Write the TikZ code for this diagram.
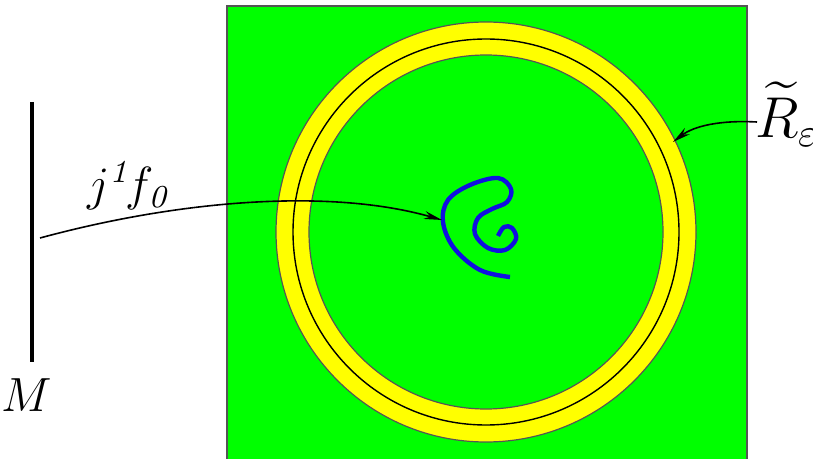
\documentclass[tikz,border=0pt]{standalone}
\usepackage{amsmath,amssymb}
\usepackage{tikz}
\usetikzlibrary{arrows.meta, positioning}
\definecolor{fieldgreen}{HTML}{00FF00}
\definecolor{ringyellow}{HTML}{FFFF00}
\definecolor{curveblue}{HTML}{1010E0}
\definecolor{edgegray}{HTML}{555555}

\begin{document}
\begin{tikzpicture}[
  x=0.25pt, y=-0.25pt,
  lbl/.style={inner sep=0pt, font=\normalsize},
  ptr/.style={-{Stealth[length=4.5pt, width=2pt]}, line width=0.4pt},
  edge/.style={draw=edgegray, line width=0.3pt},
]
  \useasboundingbox (0,0) rectangle (813,459);

  %% Square with the ring
  \fill[fieldgreen] (227,6) rectangle (747,459);
  \draw[edge, line width=0.5pt] (227,459) -- (227,6) -- (747,6) -- (747,459);
  \coordinate (ctr) at (486,232);
  \fill[ringyellow, even odd rule] (ctr) circle (210) (ctr) circle (177);
  \draw[edge] (ctr) circle (210);
  \draw[edge] (ctr) circle (177);
  \draw[black, line width=0.35pt] (ctr) circle (193);

  %% Spiral
  \draw[curveblue, line width=1.1pt, line join=round]
    plot[smooth, tension=0.6] coordinates {
      (510,277) (480,270) (454,248) (443,222) (448,200) (470,185)
      (498,178) (511,189) (507,202) (492,209) (478,218) (475,234)
      (488,248) (505,250) (516,239) (512,228) (504,227) (498,236)};
  \coordinate (spiral) at (442,220);

  %% Manifold M
  \coordinate (Mtop) at (32,102);
  \coordinate (Mbot) at (32,362);
  \draw[black, line width=0.8pt] (Mtop) -- (Mbot);
  \node[lbl, font=\large] (M) at (27,395) {$M$};
  \coordinate (jfoot) at (40,238);

  %% Labels and pointers
  \node[lbl, font=\large] (jet) at (130,186) {$j^{\mathit{1}}\!f_{\mathit{0}}$};
  \draw[ptr] (jfoot) .. controls (180,200) and (330,188) .. (spiral);

  \node[lbl, font=\Large] (Reps) at (787,114) {$\widetilde{R}_{\varepsilon}$};
  \coordinate (Rfoot) at (757,122);
  \coordinate (ringpt) at (673,142);
  \draw[ptr] (Rfoot) .. controls (720,120) and (694,126) .. (ringpt);

\end{tikzpicture}
\end{document}
